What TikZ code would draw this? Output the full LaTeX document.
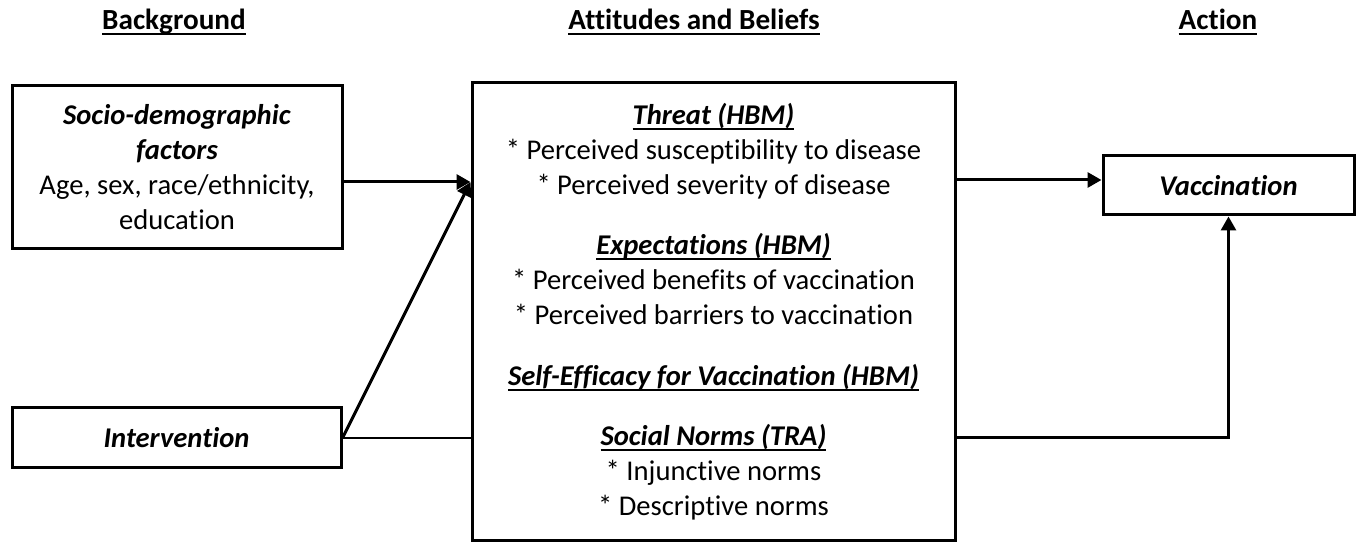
\documentclass[tikz,border=0pt]{standalone}
\usepackage{fontspec}
\setmainfont{Carlito}[Ligatures=NoCommon]
\usetikzlibrary{arrows.meta}
\newcommand\myul[1]{\setbox0\hbox{#1}\rlap{\rule[-2.4pt]{\wd0}{0.9pt}}\box0}
\begin{document}
\begin{tikzpicture}[x=0.5pt,y=-0.5pt,
  every node/.style={font=\fontsize{14.3}{17.5}\selectfont},
  box/.style={draw,line width=1.5pt,inner sep=0pt,align=center},
  hdr/.style={font=\fontsize{14.6}{17.5}\selectfont\bfseries},
  arr/.style={line width=1.5pt,-{Triangle[length=7pt,width=7.5pt]}},
  thinln/.style={line width=1pt}]
\useasboundingbox (0,0) rectangle (1360,544);

% column headers
\node[hdr] (hbg)  at (174,22)  {\myul{Background}};
\node[hdr] (hatt) at (694,22)  {\myul{Attitudes and Beliefs}};
\node[hdr] (hact) at (1218,22) {\myul{Action}};

% boxes
\node[box,minimum width=165pt,minimum height=81.5pt] (soc) at (177,167.5)
  {\textbf{\textit{Socio-demographic}}\\\textbf{\textit{factors}}\\Age, sex, race/ethnicity,\\education};
\node[box,minimum width=164.5pt,minimum height=30pt] (int) at (176.5,438)
  {\textbf{\textit{Intervention}}};
\node[box,minimum width=241.5pt,minimum height=229pt] (att) at (713.5,312)
  {\textbf{\textit{\myul{Threat (HBM)}}}\\
   * Perceived susceptibility to disease\\
   * Perceived severity of disease\\[12.5pt]
   \textbf{\textit{\myul{Expectations (HBM)}}}\\
   * Perceived benefits of vaccination\\
   * Perceived barriers to vaccination\\[13pt]
   \textbf{\textit{\myul{Self-Efficacy for Vaccination (HBM)}}}\\[12.5pt]
   \textbf{\textit{\myul{Social Norms (TRA)}}}\\
   * Injunctive norms\\
   * Descriptive norms};
\node[box,minimum width=125.5pt,minimum height=29.5pt] (vac) at (1228.5,185.5)
  {\textbf{\textit{Vaccination}}};

% connectors
\coordinate (attin) at (att.west |- 0,182);
\coordinate (vin) at (vac.west |- 0,180);
\draw[arr] (soc.east |- attin) -- (attin);
\draw[arr] (int.east) -- (attin);
\draw[thinln] (int.east) -- (int.east -| att.west);
\draw[arr] (att.east |- vin) -- (vin);
\draw[arr] (att.east |- int.east) -| (vac.south);
\end{tikzpicture}
\end{document}
